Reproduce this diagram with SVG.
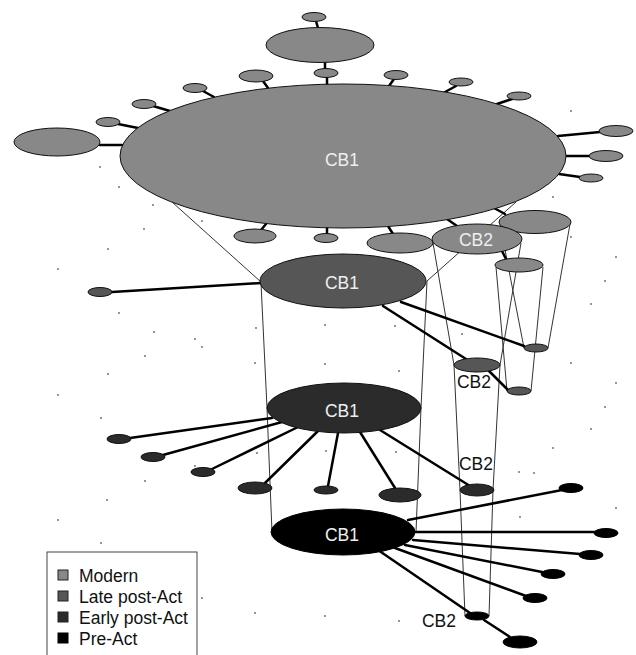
<svg xmlns="http://www.w3.org/2000/svg" width="636" height="655" viewBox="0 0 636 655">
<style>
.m{fill:#888888;stroke:#111;stroke-width:1}
.l{fill:#565656;stroke:#111;stroke-width:1}
.e{fill:#2b2b2b;stroke:#111;stroke-width:1}
.p{fill:#000;stroke:#000;stroke-width:1}
.c{stroke:#000;stroke-width:2.5;fill:none;stroke-linecap:round}
.k{stroke:#333;stroke-width:1;fill:none}
.t{font-family:"Liberation Sans",Arial,sans-serif;font-size:17.5px;text-anchor:middle}
.w{fill:#eeeeee}
.b{fill:#111}
.lg{font-family:"Liberation Sans",Arial,sans-serif;font-size:17.5px;fill:#111}
.d{fill:#666}
</style>
<rect width="636" height="655" fill="#fff"/>
<g id="dots">
<circle class="d" cx="100" cy="167" r="0.9"/><circle class="d" cx="119" cy="187" r="0.9"/><circle class="d" cx="153" cy="205" r="0.9"/><circle class="d" cx="202" cy="221" r="0.9"/><circle class="d" cx="144" cy="229" r="0.9"/><circle class="d" cx="108" cy="249" r="0.9"/>
<circle class="d" cx="571" cy="111" r="0.9"/><circle class="d" cx="553" cy="197" r="0.9"/><circle class="d" cx="571" cy="237" r="0.9"/>
<circle class="d" cx="58" cy="269" r="0.9"/><circle class="d" cx="119" cy="313" r="0.9"/><circle class="d" cx="154" cy="332" r="0.9"/><circle class="d" cx="195" cy="339" r="0.9"/><circle class="d" cx="202" cy="347" r="0.9"/><circle class="d" cx="145" cy="356" r="0.9"/><circle class="d" cx="256" cy="328" r="0.9"/><circle class="d" cx="255" cy="363" r="0.9"/><circle class="d" cx="108" cy="374" r="0.9"/><circle class="d" cx="58" cy="395" r="0.9"/><circle class="d" cx="101" cy="418" r="0.9"/>
<circle class="d" cx="616" cy="257" r="0.9"/><circle class="d" cx="605" cy="281" r="0.9"/><circle class="d" cx="591" cy="304" r="0.9"/><circle class="d" cx="325" cy="325" r="0.9"/><circle class="d" cx="395" cy="326" r="0.9"/><circle class="d" cx="462" cy="334" r="0.9"/><circle class="d" cx="571" cy="363" r="0.9"/><circle class="d" cx="325" cy="364" r="0.9"/><circle class="d" cx="399" cy="371" r="0.9"/><circle class="d" cx="616" cy="383" r="0.9"/><circle class="d" cx="605" cy="407" r="0.9"/><circle class="d" cx="591" cy="429" r="0.9"/>
<circle class="d" cx="257" cy="453" r="0.9"/><circle class="d" cx="326" cy="451" r="0.9"/><circle class="d" cx="396" cy="452" r="0.9"/><circle class="d" cx="145" cy="481" r="0.9"/><circle class="d" cx="107" cy="500" r="0.9"/><circle class="d" cx="195" cy="466" r="0.9"/><circle class="d" cx="58" cy="520" r="0.9"/><circle class="d" cx="101" cy="543" r="0.9"/><circle class="d" cx="202" cy="598" r="0.9"/><circle class="d" cx="255" cy="613" r="0.9"/>
<circle class="d" cx="553" cy="448" r="0.9"/><circle class="d" cx="519" cy="472" r="0.9"/><circle class="d" cx="534" cy="473" r="0.9"/><circle class="d" cx="616" cy="508" r="0.9"/><circle class="d" cx="520" cy="517" r="0.9"/><circle class="d" cx="325" cy="616" r="0.9"/><circle class="d" cx="399" cy="621" r="0.9"/>
</g>
<g id="connectors">
<!-- cone lines -->
<line class="k" x1="172" y1="202" x2="261" y2="282"/>
<line class="k" x1="427" y1="281" x2="516" y2="202"/>
<polyline class="k" points="261,283 267,408 272,532"/>
<polyline class="k" points="427,281 421,408 416,532"/>
<polyline class="k" points="433,243 454,365 460,490 465,616"/>
<polyline class="k" points="521,243 500,365 493,490 489,616"/>
<line class="k" x1="500" y1="224" x2="524" y2="348"/>
<line class="k" x1="570" y1="224" x2="548" y2="348"/>
<line class="k" x1="496" y1="267" x2="507" y2="391"/>
<line class="k" x1="543" y1="267" x2="531" y2="391"/>
<!-- modern level -->
<line class="c" x1="100" y1="145" x2="122" y2="145"/>
<line class="c" x1="118" y1="124" x2="138" y2="128"/>
<line class="c" x1="153" y1="106" x2="170" y2="111"/>
<line class="c" x1="203" y1="91" x2="214" y2="97"/>
<line class="c" x1="263" y1="81" x2="268" y2="88"/>
<line class="c" x1="316" y1="21" x2="318" y2="28"/>
<line class="c" x1="325" y1="62" x2="325" y2="69"/>
<line class="c" x1="327" y1="77" x2="327" y2="84"/>
<line class="c" x1="394" y1="79" x2="389" y2="86"/>
<line class="c" x1="456" y1="86" x2="445" y2="92"/>
<line class="c" x1="512" y1="99" x2="497" y2="104"/>
<line class="c" x1="558" y1="136" x2="600" y2="132"/>
<line class="c" x1="566" y1="156" x2="589" y2="156"/>
<line class="c" x1="559" y1="174" x2="580" y2="177"/>
<line class="c" x1="266" y1="224" x2="261" y2="230"/>
<line class="c" x1="327" y1="228" x2="327" y2="234"/>
<line class="c" x1="388" y1="226" x2="393" y2="234"/>
<line class="c" x1="447" y1="219" x2="457" y2="226"/>
<line class="c" x1="494" y1="208" x2="505" y2="214"/>
<line class="c" x1="502" y1="251" x2="506" y2="259"/>
<!-- late level -->
<line class="c" x1="112" y1="292" x2="261" y2="283"/>
<line class="c" x1="401" y1="302" x2="524" y2="346"/>
<line class="c" x1="383" y1="306" x2="466" y2="359"/>
<line class="c" x1="489" y1="371" x2="508" y2="390"/>
<!-- early level -->
<line class="c" x1="272" y1="418" x2="130" y2="438"/>
<line class="c" x1="282" y1="422" x2="163" y2="455"/>
<line class="c" x1="298" y1="427" x2="212" y2="469"/>
<line class="c" x1="318" y1="431" x2="265" y2="483"/>
<line class="c" x1="338" y1="433" x2="328" y2="486"/>
<line class="c" x1="360" y1="432" x2="395" y2="488"/>
<line class="c" x1="380" y1="430" x2="470" y2="486"/>
<!-- pre level -->
<line class="c" x1="408" y1="520" x2="562" y2="490"/>
<line class="c" x1="415" y1="532" x2="595" y2="532"/>
<line class="c" x1="413" y1="540" x2="580" y2="554"/>
<line class="c" x1="405" y1="545" x2="542" y2="572"/>
<line class="c" x1="395" y1="548" x2="526" y2="596"/>
<line class="c" x1="378" y1="550" x2="470" y2="613"/>
<line class="c" x1="484" y1="620" x2="510" y2="637"/>
</g>
<g id="modern">
<g id="m-cb1"><ellipse class="m" cx="343" cy="156" rx="223" ry="72"/><text class="t w" x="342" y="166">CB1</text></g>
<g id="m-n1"><ellipse class="m" cx="320" cy="45" rx="54" ry="17.5"/></g>
<g id="m-n2"><ellipse class="m" cx="314" cy="17" rx="12" ry="4.5"/></g>
<g id="m-n3"><ellipse class="m" cx="326" cy="73" rx="12" ry="4.5"/></g>
<g id="m-n4"><ellipse class="m" cx="256" cy="76" rx="17" ry="6"/></g>
<g id="m-n5"><ellipse class="m" cx="195" cy="88" rx="12" ry="4.5"/></g>
<g id="m-n6"><ellipse class="m" cx="144" cy="104" rx="12" ry="4.5"/></g>
<g id="m-n7"><ellipse class="m" cx="108" cy="122" rx="12" ry="4.5"/></g>
<g id="m-n8"><ellipse class="m" cx="57" cy="142" rx="43" ry="14"/></g>
<g id="m-n9"><ellipse class="m" cx="396" cy="75" rx="12" ry="4.5"/></g>
<g id="m-n10"><ellipse class="m" cx="461" cy="82" rx="12" ry="4"/></g>
<g id="m-n11"><ellipse class="m" cx="519" cy="96" rx="12" ry="4"/></g>
<g id="m-n12"><ellipse class="m" cx="616" cy="131" rx="17" ry="5.5"/></g>
<g id="m-n13"><ellipse class="m" cx="606" cy="156" rx="17" ry="5.5"/></g>
<g id="m-n14"><ellipse class="m" cx="591" cy="178" rx="12" ry="4"/></g>
<g id="m-n15"><ellipse class="m" cx="255" cy="236" rx="21" ry="7"/></g>
<g id="m-n16"><ellipse class="m" cx="326" cy="238" rx="12" ry="4.5"/></g>
<g id="m-n17"><ellipse class="m" cx="400" cy="243" rx="33" ry="10"/></g>
<g id="m-n18"><ellipse class="m" cx="535" cy="222" rx="36" ry="11.5"/></g>
<g id="m-cb2"><ellipse class="m" cx="477" cy="239" rx="45" ry="15"/><text class="t w" x="476" y="246">CB2</text></g>
<g id="m-n19"><ellipse class="m" cx="519" cy="265" rx="24" ry="7"/></g>
</g>
<g id="late">
<g id="l-cb1"><ellipse class="l" cx="343" cy="281" rx="83" ry="27"/><text class="t w" x="342" y="289">CB1</text></g>
<g id="l-n1"><ellipse class="l" cx="100" cy="292" rx="12" ry="4.5"/></g>
<g id="l-cb2"><ellipse class="l" cx="477" cy="365" rx="23" ry="7"/><text class="t b" x="474" y="388">CB2</text></g>
<g id="l-n2"><ellipse class="l" cx="536" cy="348" rx="12" ry="4"/></g>
<g id="l-n3"><ellipse class="l" cx="519" cy="391" rx="12" ry="4"/></g>
</g>
<g id="early">
<g id="e-cb1"><ellipse class="e" cx="344" cy="408" rx="77" ry="25"/><text class="t w" x="342" y="417">CB1</text></g>
<g id="e-n1"><ellipse class="e" cx="119" cy="439" rx="12" ry="4.5"/></g>
<g id="e-n2"><ellipse class="e" cx="153" cy="457" rx="12" ry="4.5"/></g>
<g id="e-n3"><ellipse class="e" cx="203" cy="472" rx="12" ry="4.5"/></g>
<g id="e-n4"><ellipse class="e" cx="255" cy="488" rx="17" ry="6"/></g>
<g id="e-n5"><ellipse class="e" cx="326" cy="490" rx="12" ry="4"/></g>
<g id="e-n6"><ellipse class="e" cx="400" cy="495" rx="21" ry="7"/></g>
<g id="e-cb2"><ellipse class="e" cx="477" cy="490" rx="17" ry="6"/><text class="t b" x="476" y="470">CB2</text></g>
</g>
<g id="pre">
<g id="p-cb1"><ellipse class="p" cx="343" cy="532" rx="72" ry="23"/><text class="t w" x="342" y="541">CB1</text></g>
<g id="p-n1"><ellipse class="p" cx="571" cy="488" rx="12" ry="4.5"/></g>
<g id="p-n2"><ellipse class="p" cx="606" cy="533" rx="12" ry="4.5"/></g>
<g id="p-n3"><ellipse class="p" cx="591" cy="555" rx="12" ry="4.5"/></g>
<g id="p-n4"><ellipse class="p" cx="553" cy="574" rx="12" ry="4.5"/></g>
<g id="p-n5"><ellipse class="p" cx="535" cy="598" rx="12" ry="4.5"/></g>
<g id="p-cb2"><ellipse class="p" cx="477" cy="616" rx="12" ry="4"/><text class="t b" x="439" y="627">CB2</text></g>
<g id="p-n6"><ellipse class="p" cx="520" cy="642" rx="17" ry="6"/></g>
</g>
<g id="legend">
<rect x="47" y="552" width="150" height="110" fill="#fff" stroke="#444" stroke-width="1"/>
<rect x="58" y="570" width="10" height="10" fill="#888888" stroke="#222"/>
<rect x="58" y="591" width="10" height="10" fill="#565656" stroke="#222"/>
<rect x="58" y="612" width="10" height="10" fill="#2b2b2b" stroke="#222"/>
<rect x="58" y="633" width="10" height="10" fill="#000" stroke="#000"/>
<text class="lg" x="79" y="582">Modern</text>
<text class="lg" x="79" y="603">Late post-Act</text>
<text class="lg" x="79" y="624">Early post-Act</text>
<text class="lg" x="79" y="645">Pre-Act</text>
</g>
</svg>
